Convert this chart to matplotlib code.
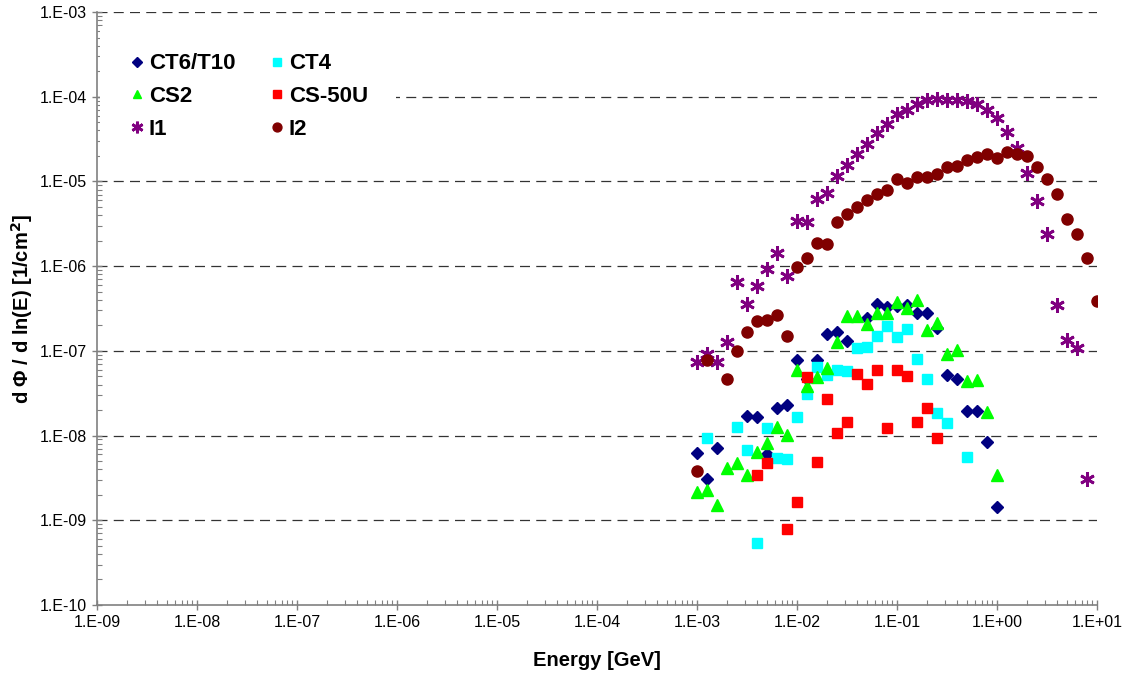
import numpy as np
import matplotlib
matplotlib.use('Agg')
import matplotlib.pyplot as plt
from matplotlib.ticker import FuncFormatter, LogLocator, NullFormatter

plt.rcParams['font.family'] = ['Liberation Sans', 'DejaVu Sans']

# Energy grid [GeV], 10 points per decade
energy = [1.00e-3, 1.26e-3, 1.58e-3, 2.00e-3, 2.51e-3, 3.16e-3, 3.98e-3, 5.01e-3, 6.31e-3, 7.94e-3,
          1.00e-2, 1.26e-2, 1.58e-2, 2.00e-2, 2.51e-2, 3.16e-2, 3.98e-2, 5.01e-2, 6.31e-2, 7.94e-2,
          1.00e-1, 1.26e-1, 1.58e-1, 2.00e-1, 2.51e-1, 3.16e-1, 3.98e-1, 5.01e-1, 6.31e-1, 7.94e-1,
          1.00, 1.26, 1.58, 2.00, 2.51, 3.16, 3.98, 5.01, 6.31, 7.94, 10.0]

N = None
ct6 = [6.15e-9, 3.06e-9, 7.2e-9, N, N, 1.7e-8, 1.67e-8, 6.0e-9, 2.13e-8, 2.29e-8,
       7.9e-8, 4.6e-8, 7.8e-8, 1.58e-7, 1.68e-7, 1.32e-7, N, 2.42e-7, 3.6e-7, 3.3e-7,
       3.4e-7, 3.47e-7, 2.77e-7, 2.8e-7, 1.84e-7, 5.2e-8, 4.65e-8, 1.95e-8, 1.95e-8, 8.45e-9,
       1.42e-9, N, N, N, N, N, N, N, N, N, N]
ct4 = [N, 9.3e-9, N, N, 1.25e-8, 6.7e-9, 5.4e-10, 1.22e-8, 5.5e-9, 5.3e-9,
       1.67e-8, 3.06e-8, 6.5e-8, 5.2e-8, 5.9e-8, 5.8e-8, 1.07e-7, 1.1e-7, 1.5e-7, 1.96e-7,
       1.44e-7, 1.8e-7, 8.0e-8, 4.65e-8, 1.83e-8, 1.42e-8, N, 5.6e-9, N, N,
       N, N, N, N, N, N, N, N, N, N, N]
cs2 = [2.13e-9, 2.28e-9, 1.51e-9, 4.1e-9, 4.8e-9, 3.42e-9, 6.4e-9, 8.2e-9, 1.27e-8, 1.01e-8,
       5.9e-8, 3.84e-8, 4.9e-8, 6.2e-8, 1.28e-7, 2.58e-7, 2.58e-7, 2.07e-7, 2.82e-7, 2.82e-7,
       3.8e-7, 3.17e-7, 4.0e-7, 1.76e-7, 2.15e-7, 9.3e-8, 1.02e-7, 4.4e-8, 4.5e-8, 1.91e-8,
       3.42e-9, N, N, N, N, N, N, N, N, N, N]
cs50u = [N, N, N, N, N, N, 3.42e-9, 4.7e-9, N, 7.9e-10,
         1.63e-9, 4.9e-8, 4.9e-9, 2.67e-8, 1.06e-8, 1.46e-8, 5.4e-8, 4.1e-8, 5.9e-8, 1.22e-8,
         6.0e-8, 5.05e-8, 1.46e-8, 2.1e-8, 9.3e-9, N, N, N, N, N,
         N, N, N, N, N, N, N, N, N, N, N]
i1 = [7.3e-8, 9.3e-8, 7.4e-8, 1.28e-7, 6.5e-7, 3.6e-7, 5.9e-7, 9.2e-7, 1.42e-6, 7.7e-7,
      3.4e-6, 3.34e-6, 6.2e-6, 7.4e-6, 1.17e-5, 1.56e-5, 2.09e-5, 2.74e-5, 3.7e-5, 4.7e-5,
      6.2e-5, 6.97e-5, 8.2e-5, 9.1e-5, 9.4e-5, 9.1e-5, 9.1e-5, 8.9e-5, 8.2e-5, 7.0e-5,
      5.65e-5, 3.8e-5, 2.5e-5, 1.26e-5, 5.9e-6, 2.4e-6, 3.5e-7, 1.34e-7, 1.07e-7, 3.1e-9, N]
i2 = [3.85e-9, 7.8e-8, N, 4.7e-8, 9.95e-8, 1.68e-7, 2.25e-7, 2.3e-7, 2.65e-7, 1.5e-7,
      9.7e-7, 1.24e-6, 1.86e-6, 1.82e-6, 3.34e-6, 4.1e-6, 5.0e-6, 6.0e-6, 7.2e-6, 8.0e-6,
      1.06e-5, 9.7e-6, 1.12e-5, 1.14e-5, 1.21e-5, 1.49e-5, 1.53e-5, 1.79e-5, 1.96e-5, 2.09e-5,
      1.91e-5, 2.25e-5, 2.09e-5, 2.01e-5, 1.49e-5, 1.07e-5, 7.2e-6, 3.56e-6, 2.37e-6, 1.24e-6, 3.9e-7]

def arr(v):
    return np.array([np.nan if x is None else x for x in v], dtype=float)

F1 = plt.figure(figsize=(11.22, 6.77), dpi=100)
ax = F1.add_axes([97/1122, 72/677, 1000/1122, 593/677])

E = np.array(energy)
# excel-ish "x-star": vertical bar plus two diagonals
star = (6, 2, 0)
h_ct6, = ax.plot(E, arr(ct6), 'D', color='#000080', ms=6.5, mec='#000080', ls='none')
h_ct4, = ax.plot(E, arr(ct4), 's', color='#00FFFF', ms=7.5, mec='#00FFFF', ls='none')
h_cs2, = ax.plot(E, arr(cs2), '^', color='#00FF00', ms=8, mec='#00FF00', ls='none')
h_cs50, = ax.plot(E, arr(cs50u), 's', color='#FF0000', ms=7.5, mec='#FF0000', ls='none')
h_i1, = ax.plot(E, arr(i1), marker=star, color='#800080', ms=10.5, mew=2.0, ls='none')
h_i2, = ax.plot(E, arr(i2), 'o', color='#800000', ms=8, mec='#800000', ls='none')

ax.set_xscale('log')
ax.set_yscale('log')
ax.set_xlim(1e-9, 1e1)
ax.set_ylim(1e-10, 1e-3)

fmt = FuncFormatter(lambda v, p: '1.E{0:+03d}'.format(int(round(np.log10(v)))))
ax.xaxis.set_major_locator(LogLocator(base=10, numticks=20))
ax.yaxis.set_major_locator(LogLocator(base=10, numticks=20))
ax.xaxis.set_minor_locator(LogLocator(base=10, subs=np.arange(2, 10), numticks=100))
ax.yaxis.set_minor_locator(LogLocator(base=10, subs=np.arange(2, 10), numticks=100))
ax.xaxis.set_major_formatter(fmt)
ax.yaxis.set_major_formatter(fmt)
ax.xaxis.set_minor_formatter(NullFormatter())
ax.yaxis.set_minor_formatter(NullFormatter())

for yv in [1e-9, 1e-8, 1e-7, 1e-6, 1e-5, 1e-4, 1e-3]:
    ax.axhline(yv, color='#333333', lw=0.9, ls=(0, (8, 5)), zorder=0)

for s in ['top', 'right']:
    ax.spines[s].set_visible(False)
for s in ['left', 'bottom']:
    ax.spines[s].set_color('#808080')
    ax.spines[s].set_linewidth(1.2)
    ax.spines[s].set_zorder(6)
ax.tick_params(which='major', direction='inout', length=7, color='#808080', width=1, labelsize=11.5, pad=4)
ax.tick_params(which='minor', direction='in', length=3.5, color='#808080', width=0.8)

ax.set_xlabel('Energy [GeV]', fontsize=14.5, fontweight='bold')
ax.set_ylabel('d Φ / d ln(E) [1/cm$^\\mathbf{2}$]', fontsize=14.5, fontweight='bold')
ax.xaxis.set_label_coords(0.5, -0.077)
ax.yaxis.set_label_coords(-0.062, 0.5)

handles = [h_ct6, h_cs2, h_i1, h_ct4, h_cs50, h_i2]
names = ['CT6/T10', 'CS2', 'I1', 'CT4', 'CS-50U', 'I2']
leg = ax.legend(handles, names, ncol=2, frameon=True, fancybox=False, loc='upper left',
                bbox_to_anchor=(0.003, 0.977), prop={'weight': 'bold', 'size': 16},
                handletextpad=0.15, columnspacing=1.45, labelspacing=0.52, handlelength=0.8,
                borderpad=1.25, borderaxespad=0, markerscale=0.8,
                facecolor='white', edgecolor='none', framealpha=1.0)

plt.savefig('out.png', dpi=100)
